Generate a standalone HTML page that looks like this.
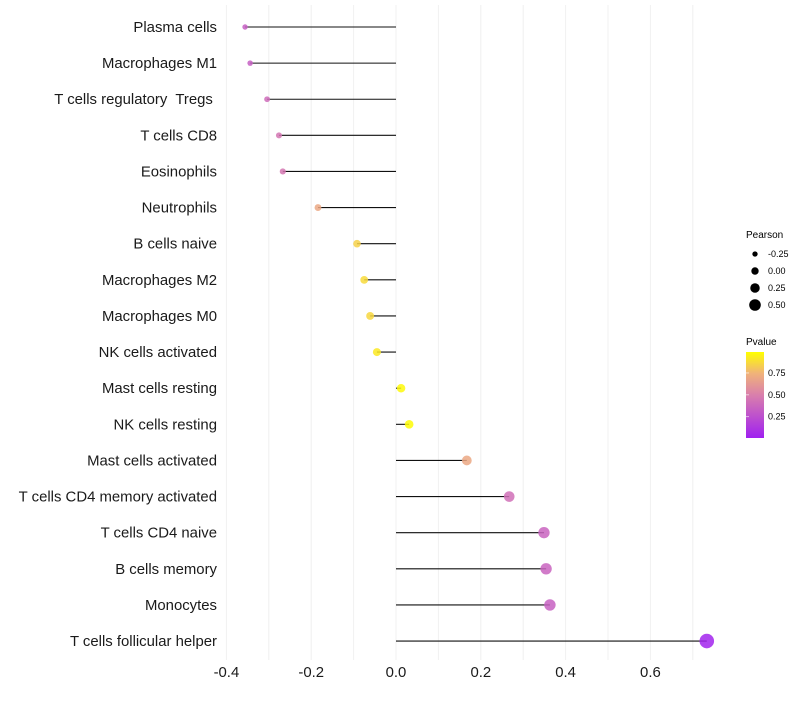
<!DOCTYPE html>
<html><head><meta charset="utf-8"><style>
body{margin:0;background:#fff;font-family:"Liberation Sans",sans-serif}
text{white-space:pre}
</style></head><body>
<svg id="chart" width="800" height="700" xmlns="http://www.w3.org/2000/svg">
<defs><linearGradient id="pg" x1="0" y1="1" x2="0" y2="0">
<stop offset="0" stop-color="#a020f0"/><stop offset="0.5" stop-color="#d97fac"/><stop offset="0.75" stop-color="#f0b27a"/><stop offset="1" stop-color="#ffff00"/></linearGradient></defs>
<g id="grid"></g>
<g id="marks"></g>
<g id="ylab"></g>
<g id="xlab"></g>
<g font-size="9">
<text x="746" y="238" font-size="10">Pearson</text>
<g id="sizeleg"></g>
</g>
<g font-size="9">
<text x="746" y="345" font-size="10">Pvalue</text>
<rect x="746" y="352" width="18" height="86" fill="url(#pg)"/>
<g id="colleg"></g>
</g>
</svg>
<script>
const categories=["Plasma cells","Macrophages M1","T cells regulatory  Tregs ","T cells CD8","Eosinophils","Neutrophils","B cells naive","Macrophages M2","Macrophages M0","NK cells activated","Mast cells resting","NK cells resting","Mast cells activated","T cells CD4 memory activated","T cells CD4 naive","B cells memory","Monocytes","T cells follicular helper"];
const pearson=[-0.356,-0.344,-0.304,-0.276,-0.267,-0.184,-0.092,-0.075,-0.061,-0.045,0.012,0.031,0.167,0.267,0.349,0.354,0.363,0.733];
const pvalues=[0.33,0.33,0.4,0.45,0.46,0.7,0.85,0.88,0.87,0.93,0.98,0.99,0.7,0.42,0.36,0.36,0.34,0.02];
const xTicks=[-0.4,-0.2,0.0,0.2,0.4,0.6];
const sizeTicks=[-0.25,0.00,0.25,0.50];
const pTicks=[0.25,0.50,0.75];
const NS="http://www.w3.org/2000/svg";
const X=v=>396+v*424, Y=i=>27+i*36.12;
const R=v=>4.2+v*4.2;
const stops=[[0,[160,32,240]],[0.5,[217,127,172]],[0.75,[240,178,122]],[1,[255,255,0]]];
function col(p){for(let k=1;k<stops.length;k++){if(p<=stops[k][0]){const a=stops[k-1],b=stops[k],t=(p-a[0])/(b[0]-a[0]);return 'rgb('+a[1].map((c,j)=>Math.round(c+(b[1][j]-c)*t)).join(',')+')';}}return 'rgb(255,255,0)';}
function mk(tag,at,par){const e=document.createElementNS(NS,tag);for(const k in at)e.setAttribute(k,at[k]);par.appendChild(e);return e;}
const g=document.getElementById('grid');
for(let v=-0.4;v<=0.75;v+=0.1){const l=mk('line',{x1:X(v),x2:X(v),y1:5,y2:660,stroke:'#f0f0f0','stroke-width':1},g);

}
const m=document.getElementById('marks'),yl=document.getElementById('ylab');
categories.forEach((c,i)=>{
const l=mk('line',{x1:X(0),x2:X(pearson[i]),y1:Y(i),y2:Y(i),stroke:'#111','stroke-width':1.1},m);


const p=mk('circle',{cx:X(pearson[i]),cy:Y(i),r:R(pearson[i]),fill:col(pvalues[i]),'fill-opacity':0.85},m);


const t=mk('text',{x:217,y:Y(i)+5,'text-anchor':'end','font-size':14.9,fill:'#1a1a1a'},yl);t.textContent=c;


});
const xl=document.getElementById('xlab');
xTicks.forEach(v=>{const t=mk('text',{x:X(v),y:677,'text-anchor':'middle','font-size':14.9,fill:'#1a1a1a'},xl);t.textContent=v.toFixed(1);

});
const sl=document.getElementById('sizeleg');
sizeTicks.forEach((v,i)=>{const y=254+i*17;const c=mk('circle',{cx:755,cy:y,r:R(v)-0.5,fill:'#000'},sl);


const t=mk('text',{x:768,y:y+3},sl);t.textContent=v.toFixed(2);

});
const cl=document.getElementById('colleg');
pTicks.forEach(v=>{const y=352+(0.99-v)*86/0.985;const t=mk('text',{x:768,y:y+3},cl);t.textContent=v.toFixed(2);


const l=mk('line',{x1:746,x2:749,y1:y,y2:y,stroke:'#fff','stroke-opacity':0.6},cl);

});
</script>
</body></html>
